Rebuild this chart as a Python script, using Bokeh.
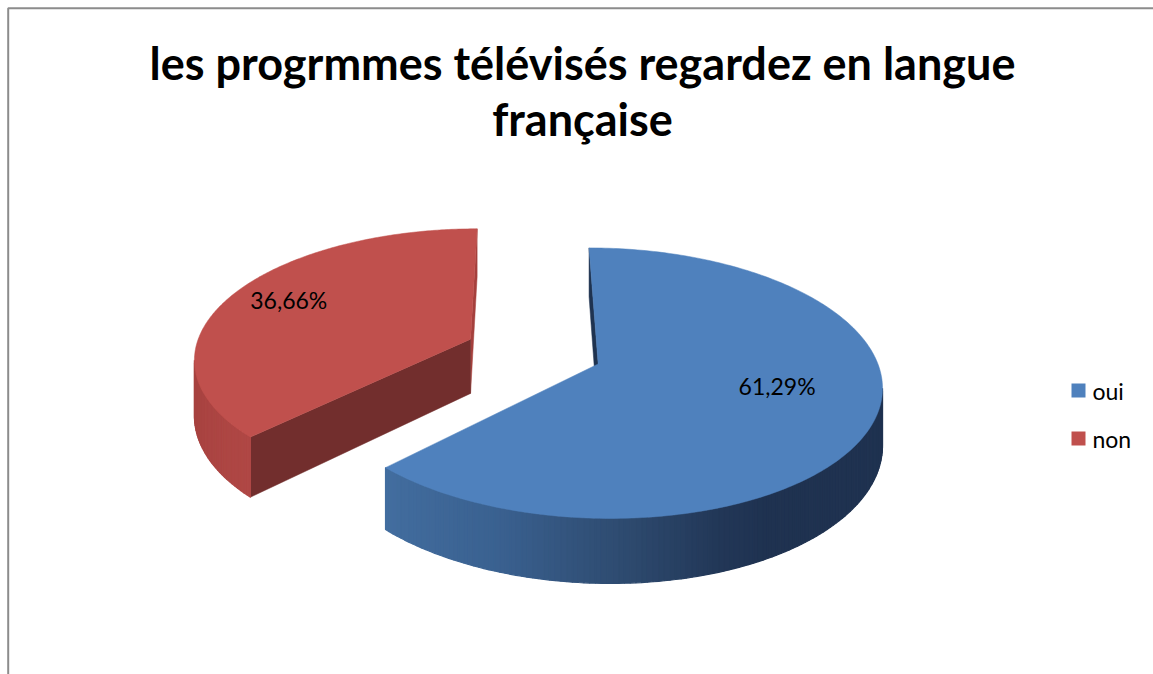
import numpy as np
from bokeh.plotting import figure
from bokeh.models import Range1d
from bokeh.core.properties import value
from bokeh.embed import file_html
from bokeh.resources import INLINE

# ---------------- data ----------------
title_lines = ["les progrmmes télévisés regardez en langue", "française"]
categories = ["oui", "non"]
values = [61.29, 36.66]
value_labels = ["61,29%", "36,66%"]

# ---------------- styles / layout ----------------
FONT = "Lato"
TOP_COLORS = {"oui": "#4F81BD", "non": "#C0504D"}
SIDE_STOPS = {
    "oui": [(-140, "#4470A2"), (-110, "#3A6190"), (-88, "#2E4B70"),
            (-70, "#223757"), (-60, "#1F3250"), (40, "#1F3250")],
    "non": [(140, "#A3403D"), (190, "#A5413E"), (230, "#B14846")],
}
FACE_COLORS = {"oui": {"a0": "#1F3350", "a1": "#1F3350"},
               "non": {"a0": "#A5403D", "a1": "#722E2D"}}
LABEL_R = {"oui": 0.64, "non": 0.78}
LABEL_DTHETA = {"oui": 7.65, "non": -2.35}

# pseudo-perspective projection of a unit pie (page pixel coordinates)
CX, CY = 533.0, 350.9
A, B = 276.0, 129.0
K = 0.14
GX = 1.2
HZ = 55.0
EXPLODE = 0.25
CAM = (-GX / (A * K), -1.0 / K)

W, H = 1153, 674


def proj(X, Y, Z=0.0):
    X = np.asarray(X, float)
    Y = np.asarray(Y, float)
    w = 1 + K * Y
    xs = CX + (A * X - GX * Y) / w
    ys = CY + (-B * Y + HZ * Z) / w
    return xs, ys


def hex2rgb(h):
    h = h.lstrip("#")
    return np.array([int(h[i:i + 2], 16) for i in (0, 2, 4)], float)


def interp_color(stops, t):
    angs = [s[0] for s in stops]
    cols = [hex2rgb(s[1]) for s in stops]
    if t <= angs[0]:
        c = cols[0]
    elif t >= angs[-1]:
        c = cols[-1]
    else:
        for i in range(len(angs) - 1):
            if angs[i] <= t <= angs[i + 1]:
                f = (t - angs[i]) / (angs[i + 1] - angs[i])
                c = cols[i] * (1 - f) + cols[i + 1] * f
                break
    return "#%02x%02x%02x" % tuple(int(round(v)) for v in c)


p = figure(width=W, height=H, x_range=Range1d(0, W), y_range=Range1d(H, 0),
           output_backend="svg", toolbar_location=None, min_border=0,
           x_axis_location=None, y_axis_location=None)
p.grid.visible = False
p.outline_line_color = None
p.background_fill_color = "white"
p.border_fill_color = "white"

# chart-area border (left and top visible)
p.line([7.7, 7.7, W + 10], [H + 10, 7.7, 7.7], line_color="#8C8C8C", line_width=2)

# ---------------- slices ----------------
total = float(sum(values))
start = 90.0
slices = []
for cat, v, lab in zip(categories, values, value_labels):
    span = v / total * 360.0
    a0, a1 = start - span, start
    start = a0
    mid = (a0 + a1) / 2
    shift = -360.0 * np.floor((mid + 180.0) / 360.0)
    a0 += shift
    a1 += shift
    mid += shift
    ox = EXPLODE * np.cos(np.radians(mid))
    oy = EXPLODE * np.sin(np.radians(mid))
    slices.append(dict(cat=cat, lab=lab, a0=a0, a1=a1, mid=mid, ox=ox, oy=oy))

# far slices first
for s in sorted(slices, key=lambda d: -d["oy"]):
    cat, ox, oy, a0, a1, mid = s["cat"], s["ox"], s["oy"], s["a0"], s["a1"], s["mid"]
    mr = np.radians(mid)
    # cut faces
    for key, phi in (("a0", a0), ("a1", a1)):
        pr = np.radians(phi)
        n = np.array([-np.sin(pr), np.cos(pr)])
        if n @ np.array([np.cos(mr), np.sin(mr)]) > 0:
            n = -n
        P = np.array([ox + 0.5 * np.cos(pr), oy + 0.5 * np.sin(pr)])
        if n @ (np.array(CAM) - P) <= 0:
            continue
        Xs = [ox, ox + np.cos(pr), ox + np.cos(pr), ox]
        Ys = [oy, oy + np.sin(pr), oy + np.sin(pr), oy]
        Zs = [0, 0, 1, 1]
        fx, fy = proj(Xs, Ys, np.array(Zs, float))
        c = FACE_COLORS[cat][key]
        p.patch(list(fx), list(fy), fill_color=c, line_color=c, line_width=0.5)
    # silhouette of the full cylinder around this slice centre
    full = np.linspace(-270, 90, 3601)
    fr = np.radians(full)
    fxs, _ = proj(ox + np.cos(fr), oy + np.sin(fr), 0.0)
    thL, thR = full[np.argmin(fxs)], full[np.argmax(fxs)]
    # curved side: only the front arc between silhouettes
    for k in (-1, 0, 1):
        lo = max(a0, thL + 360 * k)
        hi = min(a1, thR + 360 * k)
        if hi - lo <= 0.01:
            continue
        th = np.linspace(lo, hi, max(int((hi - lo) / 1.0), 2))
        tr = np.radians(th)
        Xr = ox + np.cos(tr)
        Yr = oy + np.sin(tr)
        xt, yt = proj(Xr, Yr, 0.0)
        xb, yb = proj(Xr, Yr, 1.0)
        xs_l, ys_l, cols = [], [], []
        for i in range(len(th) - 1):
            xs_l.append([xt[i], xt[i + 1], xb[i + 1], xb[i]])
            ys_l.append([yt[i], yt[i + 1], yb[i + 1], yb[i]])
            cols.append(interp_color(SIDE_STOPS[cat], (th[i] + th[i + 1]) / 2))
        p.patches(xs_l, ys_l, fill_color=cols, line_color=cols, line_width=1.2)
    # top face
    th = np.radians(np.linspace(a0, a1, 240))
    Xt = np.concatenate([[ox], ox + np.cos(th)])
    Yt = np.concatenate([[oy], oy + np.sin(th)])
    tx, ty = proj(Xt, Yt, 0.0)
    c = TOP_COLORS[cat]
    p.patch(list(tx), list(ty), fill_color=c, line_color=c, line_width=0.5)

# data labels
lx, ly, lt = [], [], []
for s in slices:
    ang = np.radians(s["mid"] + LABEL_DTHETA[s["cat"]])
    r = LABEL_R[s["cat"]]
    x, y = proj(s["ox"] + r * np.cos(ang), s["oy"] + r * np.sin(ang), 0.0)
    lx.append(float(x))
    ly.append(float(y))
    lt.append(s["lab"])
p.text(x=lx, y=ly, text=lt, text_align="center", text_baseline="middle",
       text_font=value(FONT), text_font_size=value("23px"), text_color="black")

# legend
LEG_X = 1078
LEG_Y = [390, 438]
p.rect(x=[LEG_X] * len(categories), y=LEG_Y[:len(categories)], width=14, height=14,
       fill_color=[TOP_COLORS[c] for c in categories], line_color=None)
p.text(x=[LEG_X + 14] * len(categories), y=LEG_Y[:len(categories)], text=categories,
       text_align="left", text_baseline="middle", text_font=value(FONT),
       text_font_size=value("23px"), text_color="black")

# title
p.text(x=[582, 582], y=[62, 118], text=title_lines, text_align="center",
       text_baseline="alphabetic", text_font=value(FONT), text_font_style="bold",
       text_font_size=value("45px"), text_color="black")

open("out.html", "w").write(file_html(p, INLINE))
